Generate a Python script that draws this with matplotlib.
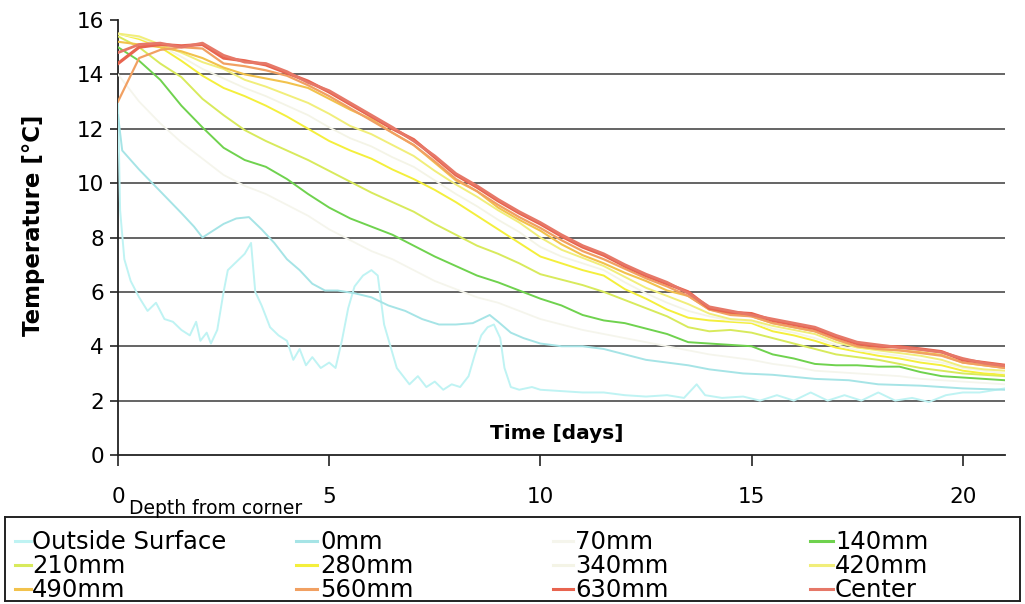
import numpy as np
import matplotlib
matplotlib.use("Agg")
import matplotlib.pyplot as plt
from matplotlib.lines import Line2D

plt.rcParams['font.family'] = ['DejaVu Sans']

# ---------------- data ----------------
days = np.arange(0, 21.01, 0.5)  # 0 .. 21 days, half-day readings

t_outside = [0, 0.05, 0.15, 0.3, 0.5, 0.7, 0.9, 1.1, 1.3, 1.5, 1.7, 1.85, 1.95, 2.1, 2.2, 2.35,
             2.5, 2.6, 2.8, 3.0, 3.15, 3.25, 3.4, 3.6, 3.8, 4.0, 4.15, 4.3, 4.45, 4.6, 4.8, 5.0,
             5.15, 5.3, 5.45, 5.6, 5.8, 6.0, 6.15, 6.3, 6.45, 6.6, 6.75, 6.9, 7.1, 7.3, 7.5, 7.7,
             7.9, 8.1, 8.3, 8.45, 8.6, 8.75, 8.9, 9.05, 9.15, 9.3, 9.5, 9.8, 10.0, 10.5, 11.0,
             11.5, 12.0, 12.5, 13.0, 13.4, 13.7, 13.9, 14.3, 14.8, 15.2, 15.6, 16.0, 16.4, 16.8,
             17.2, 17.6, 18.0, 18.4, 18.8, 19.2, 19.6, 20.0, 20.4, 20.8, 21.0]
outside_surface = [13.0, 9.0, 7.2, 6.4, 5.8, 5.3, 5.6, 5.0, 4.9, 4.6, 4.4, 4.9, 4.2, 4.5, 4.1, 4.6,
                   6.0, 6.8, 7.1, 7.4, 7.8, 6.0, 5.5, 4.7, 4.4, 4.2, 3.5, 3.9, 3.3, 3.6, 3.2, 3.4,
                   3.2, 4.2, 5.4, 6.2, 6.6, 6.8, 6.6, 4.8, 4.0, 3.2, 2.9, 2.6, 2.9, 2.5, 2.7, 2.4,
                   2.6, 2.5, 2.9, 3.7, 4.4, 4.7, 4.8, 4.3, 3.2, 2.5, 2.4, 2.5, 2.4, 2.35, 2.3,
                   2.3, 2.2, 2.15, 2.2, 2.1, 2.6, 2.2, 2.1, 2.15, 2.0, 2.2, 2.0, 2.3, 2.0,
                   2.2, 2.0, 2.3, 2.0, 2.1, 1.95, 2.2, 2.3, 2.3, 2.4, 2.45]

t_0mm = [0, 0.1, 0.5, 1.0, 1.5, 1.8, 2.0, 2.2, 2.5, 2.8, 3.1, 3.4, 3.7, 4.0, 4.3, 4.6, 4.9, 5.2,
         5.6, 6.0, 6.4, 6.8, 7.2, 7.6, 8.0, 8.4, 8.8, 9.0, 9.3, 9.6, 10.0, 10.5, 11.0, 11.5, 12.0,
         12.5, 13.0, 13.5, 14.0, 14.8, 15.5, 16.5, 17.3, 18.0, 19.0, 20.0, 21.0]
d_0mm = [12.5, 11.2, 10.5, 9.7, 8.9, 8.4, 8.0, 8.2, 8.5, 8.7, 8.75, 8.3, 7.8, 7.2, 6.8, 6.3, 6.05,
         6.05, 5.95, 5.8, 5.5, 5.3, 5.0, 4.8, 4.8, 4.85, 5.15, 4.9, 4.5, 4.3, 4.1, 4.0, 4.0, 3.9,
         3.7, 3.5, 3.4, 3.3, 3.15, 3.0, 2.95, 2.8, 2.75, 2.6, 2.55, 2.45, 2.4]

d_70mm = [14.0, 13.0, 12.2, 11.5, 10.9, 10.3, 9.9, 9.6, 9.2, 8.8, 8.3, 7.9, 7.5, 7.2, 6.8, 6.4,
          6.1, 5.8, 5.6, 5.3, 5.0, 4.8, 4.6, 4.45, 4.3, 4.15, 4.0, 3.85, 3.7, 3.6, 3.5, 3.35,
          3.25, 3.1, 3.05, 3.0, 2.95, 2.9, 2.8, 2.75, 2.7, 2.65, 2.6]
d_140mm = [15.0, 14.5, 13.8, 12.85, 12.05, 11.3, 10.85, 10.6, 10.15, 9.6, 9.1, 8.7, 8.4, 8.1,
           7.7, 7.3, 6.95, 6.6, 6.35, 6.05, 5.75, 5.5, 5.15, 4.95, 4.85, 4.65, 4.45, 4.15, 4.1,
           4.05, 4.0, 3.7, 3.55, 3.35, 3.3, 3.3, 3.25, 3.25, 3.05, 2.9, 2.85, 2.8, 2.75]
d_210mm = [15.4, 15.0, 14.4, 13.9, 13.1, 12.5, 11.95, 11.55, 11.2, 10.85, 10.45, 10.05, 9.65,
           9.3, 8.95, 8.5, 8.1, 7.7, 7.4, 7.05, 6.65, 6.45, 6.25, 6.0, 5.7, 5.4, 5.1, 4.7, 4.55,
           4.6, 4.5, 4.3, 4.1, 3.9, 3.7, 3.6, 3.5, 3.35, 3.2, 3.1, 3.0, 2.95, 2.9]
d_280mm = [15.5, 15.3, 15.0, 14.5, 13.95, 13.5, 13.2, 12.85, 12.45, 12.0, 11.55, 11.2, 10.9,
           10.5, 10.15, 9.75, 9.3, 8.8, 8.3, 7.8, 7.3, 7.05, 6.8, 6.6, 6.1, 5.75, 5.35, 5.05,
           4.95, 4.9, 4.85, 4.55, 4.4, 4.2, 3.95, 3.8, 3.65, 3.55, 3.4, 3.3, 3.1, 3.0, 2.95]
d_340mm = [15.5, 15.35, 15.05, 14.65, 14.2, 13.85, 13.5, 13.2, 12.85, 12.5, 12.05, 11.65, 11.35,
           10.95, 10.6, 10.1, 9.6, 9.15, 8.65, 8.2, 7.65, 7.3, 7.05, 6.8, 6.35, 5.95, 5.6, 5.3,
           5.1, 4.95, 4.9, 4.65, 4.5, 4.3, 4.05, 3.85, 3.75, 3.65, 3.5, 3.4, 3.2, 3.1, 3.0]
d_420mm = [15.5, 15.4, 15.1, 14.8, 14.45, 14.2, 13.8, 13.55, 13.25, 12.95, 12.55, 12.1, 11.8,
           11.4, 11.0, 10.45, 9.95, 9.5, 9.0, 8.55, 8.0, 7.55, 7.25, 6.95, 6.55, 6.15, 5.85, 5.55,
           5.2, 5.0, 4.95, 4.75, 4.6, 4.45, 4.15, 3.95, 3.85, 3.75, 3.65, 3.5, 3.25, 3.15, 3.1]
d_490mm = [15.2, 15.1, 15.0, 14.85, 14.6, 14.25, 14.0, 13.85, 13.7, 13.5, 13.1, 12.7, 12.35,
           11.85, 11.4, 10.75, 10.1, 9.7, 9.1, 8.65, 8.25, 7.75, 7.35, 7.05, 6.7, 6.4, 6.05, 5.85,
           5.35, 5.2, 5.1, 4.85, 4.7, 4.55, 4.25, 4.0, 3.9, 3.85, 3.78, 3.68, 3.4, 3.3, 3.2]
d_560mm = [13.0, 14.6, 14.9, 15.0, 14.95, 14.4, 14.3, 14.15, 13.95, 13.6, 13.2, 12.75, 12.3,
           11.85, 11.4, 10.8, 10.15, 9.7, 9.2, 8.75, 8.35, 7.9, 7.5, 7.2, 6.85, 6.5, 6.2, 5.85,
           5.35, 5.15, 5.1, 4.85, 4.7, 4.55, 4.25, 4.0, 3.9, 3.85, 3.75, 3.65, 3.4, 3.3, 3.2]
d_630mm = [14.4, 15.0, 15.1, 15.05, 15.1, 14.6, 14.5, 14.35, 14.05, 13.75, 13.35, 12.9, 12.45,
           12.0, 11.6, 10.95, 10.3, 9.85, 9.35, 8.9, 8.5, 8.05, 7.65, 7.35, 6.95, 6.6, 6.3, 6.0,
           5.4, 5.25, 5.2, 4.95, 4.8, 4.65, 4.35, 4.1, 4.0, 3.98, 3.9, 3.8, 3.5, 3.4, 3.3]
d_center = [14.8, 15.1, 15.15, 15.0, 15.15, 14.7, 14.45, 14.4, 14.1, 13.7, 13.4, 12.95, 12.5,
            12.05, 11.55, 11.0, 10.35, 9.9, 9.4, 8.95, 8.55, 8.1, 7.7, 7.4, 7.0, 6.65, 6.35, 5.95,
            5.45, 5.3, 5.15, 5.0, 4.85, 4.7, 4.4, 4.15, 4.05, 3.95, 3.88, 3.78, 3.55, 3.38, 3.28]

series_names = ["Outside Surface", "0mm", "70mm", "140mm",
                "210mm", "280mm", "340mm", "420mm",
                "490mm", "560mm", "630mm", "Center"]
series_colors = ["#bff3f3", "#a6e4e6", "#f5f5ec", "#6fd24e",
                 "#d8ea5c", "#f4ef3c", "#f4f4e6", "#f1ee7a",
                 "#f2c24c", "#f1a062", "#e8644f", "#e67868"]
series_t = [t_outside, t_0mm, days, days, days, days, days, days, days, days, days, days]
series_y = [outside_surface, d_0mm, d_70mm, d_140mm, d_210mm, d_280mm, d_340mm, d_420mm,
            d_490mm, d_560mm, d_630mm, d_center]
series_lw = [1.4, 1.4, 1.3, 1.4, 1.4, 1.4, 1.3, 1.4, 1.5, 1.6, 2.3, 2.0]

y_ticks = [0, 2, 4, 6, 8, 10, 12, 14, 16]
x_ticks = [0, 5, 10, 15, 20]

# ---------------- figure ----------------
W, H = 1025, 604
fig = plt.figure(figsize=(W / 100, H / 100), dpi=100)
ax = fig.add_axes([118 / W, 1 - 455 / H, (1005 - 118) / W, (455 - 20) / H])

for tt, yy, c, lw, nm in zip(series_t, series_y, series_colors, series_lw, series_names):
    ax.plot(tt, yy, color=c, lw=lw, label=nm, zorder=3, solid_joinstyle='round')

ax.set_xlim(0, 21)
ax.set_ylim(0, 16)
ax.set_yticks(y_ticks)
ax.set_xticks(x_ticks)
ax.tick_params(axis='both', labelsize=15.5, color='#222222', width=1.2, direction='out')
ax.tick_params(axis='y', length=6, pad=4)
ax.tick_params(axis='x', length=8, pad=15)
ax.yaxis.grid(True, color='#3a3a3a', lw=1.1, zorder=1)
ax.set_axisbelow(True)
gl = ax.get_ygridlines()
gl[-1].set_visible(False)
gl[0].set_visible(False)
for s in ['top', 'right']:
    ax.spines[s].set_visible(False)
for s in ['left', 'bottom']:
    ax.spines[s].set_color('#222222')
    ax.spines[s].set_linewidth(1.3)

ax.set_ylabel("Temperature [°C]", fontsize=16.5, fontweight='bold')
ax.yaxis.set_label_coords((45 - 118) / (1005 - 118), 0.528)
ax.text(0.495, 0.05, "Time [days]", transform=ax.transAxes, ha='center', va='center',
        fontsize=14.5, fontweight='bold')

fig.text(129 / W, 1 - 509 / H, "Depth from corner", fontsize=13.5, ha='left', va='center')

# ---------------- legend box ----------------
lax = fig.add_axes([5 / W, 1 - 601 / H, 1015 / W, 84 / H])
lax.set_xlim(0, 1015)
lax.set_ylim(84, 0)
lax.set_xticks([])
lax.set_yticks([])
for s in lax.spines.values():
    s.set_color('#222222')
    s.set_linewidth(1.4)
col_handle = [(10, 26), (291, 312), (548, 568), (805, 828)]
col_text = [27, 315, 570, 830]
row_y = [25, 49, 73]
for i, (nm, c) in enumerate(zip(series_names, series_colors)):
    r, cidx = divmod(i, 4)
    x0, x1 = col_handle[cidx]
    lax.add_line(Line2D([x0, x1], [row_y[r] - 1, row_y[r] - 1], color=c, lw=2.2))
    lax.text(col_text[cidx], row_y[r], nm, fontsize=17.5, ha='left', va='center')

fig.savefig("out.png", dpi=100)
